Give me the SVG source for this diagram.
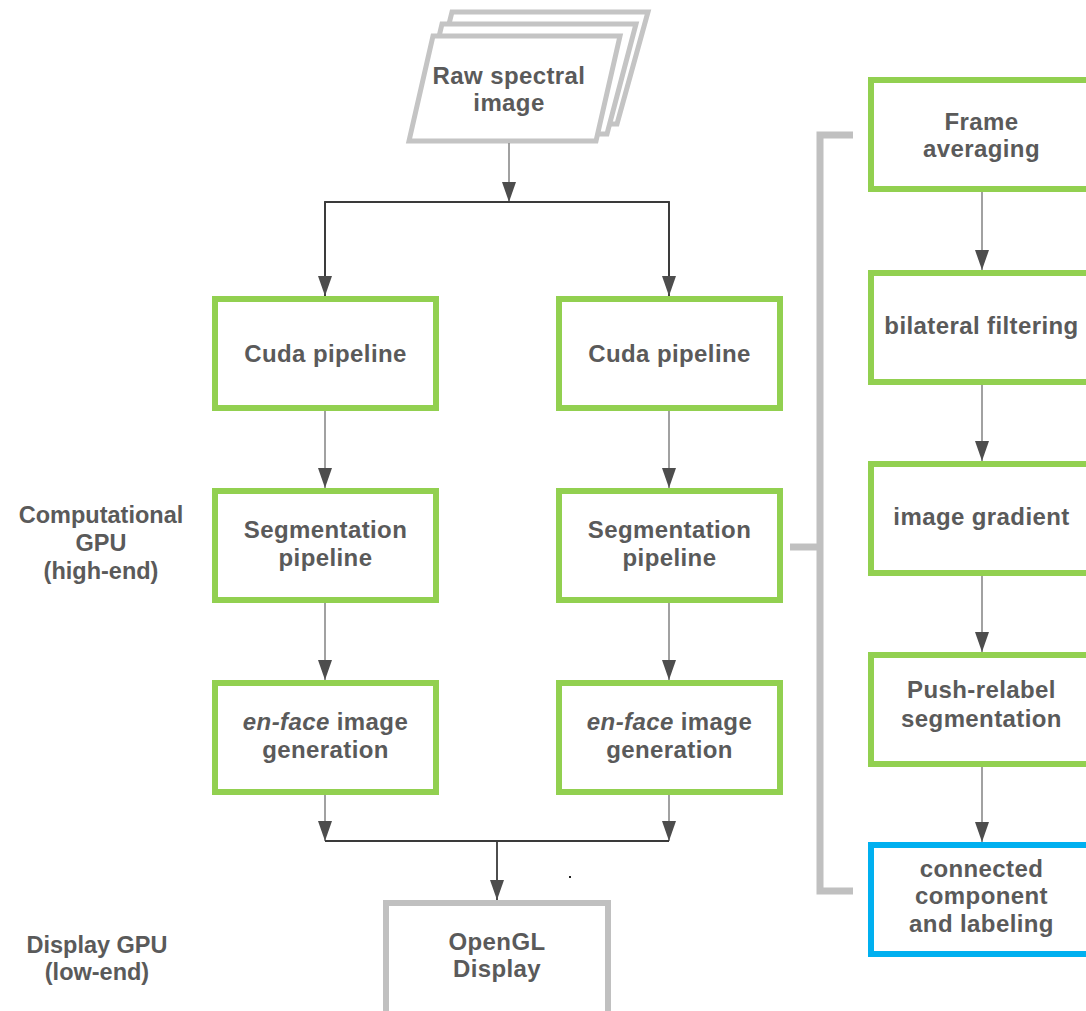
<svg xmlns="http://www.w3.org/2000/svg" width="1086" height="1011" viewBox="0 0 1086 1011">
  <defs>
    <marker id="arrow" markerUnits="userSpaceOnUse" markerWidth="20" markerHeight="14" viewBox="0 0 20 14" refX="20" refY="7" orient="auto">
      <path d="M0,0 L20,7 L0,14 z" fill="#4d4d4d"/>
    </marker>
    <style>
      .box { fill: #ffffff; stroke-width: 6; }
      .green { stroke: #92d050; }
      .blue { stroke: #00b0f0; }
      .grey { stroke: #c0c0c0; }
      .sheet { fill: #ffffff; stroke: #c4c4c4; stroke-width: 5; stroke-linejoin: miter; }
      text { font-family: "Liberation Sans", Arial, sans-serif; font-weight: bold; font-size: 24px; letter-spacing: 0.4px; fill: #5a5a5a; text-anchor: middle; }
      .side { letter-spacing: 0; font-size: 23.5px; }
      .link { fill: none; stroke: #8a8a8a; stroke-width: 1.6; }
      .bus { fill: none; stroke: #3a3a3a; stroke-width: 1.8; }
      .bracket { fill: none; stroke: #c0c0c0; stroke-width: 7; }
    </style>
  </defs>

  <rect width="1086" height="1011" fill="#ffffff"/>

  <!-- side labels -->
  <g id="label-computational" class="side">
    <text class="side" x="101" y="523">Computational</text>
    <text class="side" x="101" y="551">GPU</text>
    <text class="side" x="101" y="579">(high-end)</text>
  </g>
  <g id="label-display">
    <text class="side" x="97" y="953">Display GPU</text>
    <text class="side" x="97" y="980">(low-end)</text>
  </g>

  <!-- stacked input frames -->
  <g id="raw-image">
    <polygon class="sheet" points="452,12 648,12 617,124 424,124"/>
    <polygon class="sheet" points="442,24 636,24 607,134 416,134"/>
    <polygon class="sheet" points="433,36 620,36 596,141 409,141"/>
    <text x="509" y="84">Raw spectral</text>
    <text x="509" y="111">image</text>
  </g>

  <!-- left pipeline -->
  <g id="cuda-left">
    <rect class="box green" x="215" y="299" width="221" height="109"/>
    <text x="325.5" y="362">Cuda pipeline</text>
  </g>
  <g id="seg-left">
    <rect class="box green" x="215" y="491" width="221" height="109"/>
    <text x="325.5" y="538">Segmentation</text>
    <text x="325.5" y="566">pipeline</text>
  </g>
  <g id="enface-left">
    <rect class="box green" x="215" y="683" width="221" height="109"/>
    <text x="325.5" y="730"><tspan font-style="italic">en-face</tspan> image</text>
    <text x="325.5" y="758">generation</text>
  </g>

  <!-- right pipeline -->
  <g id="cuda-right">
    <rect class="box green" x="559" y="299" width="221" height="109"/>
    <text x="669.5" y="362">Cuda pipeline</text>
  </g>
  <g id="seg-right">
    <rect class="box green" x="559" y="491" width="221" height="109"/>
    <text x="669.5" y="538">Segmentation</text>
    <text x="669.5" y="566">pipeline</text>
  </g>
  <g id="enface-right">
    <rect class="box green" x="559" y="683" width="221" height="109"/>
    <text x="669.5" y="730"><tspan font-style="italic">en-face</tspan> image</text>
    <text x="669.5" y="758">generation</text>
  </g>

  <!-- display -->
  <g id="opengl-display">
    <rect class="box grey" x="386" y="903" width="222" height="120"/>
    <text x="497" y="950">OpenGL</text>
    <text x="497" y="977">Display</text>
  </g>

  <!-- segmentation detail -->
  <g id="frame-averaging">
    <rect class="box green" x="871" y="80" width="221" height="109"/>
    <text x="981.5" y="130">Frame</text>
    <text x="981.5" y="157">averaging</text>
  </g>
  <g id="bilateral-filtering">
    <rect class="box green" x="871" y="273" width="221" height="109"/>
    <text x="981.5" y="334">bilateral filtering</text>
  </g>
  <g id="image-gradient">
    <rect class="box green" x="871" y="464" width="221" height="109"/>
    <text x="981.5" y="525">image gradient</text>
  </g>
  <g id="push-relabel">
    <rect class="box green" x="871" y="655" width="221" height="109"/>
    <text x="981.5" y="698">Push-relabel</text>
    <text x="981.5" y="727">segmentation</text>
  </g>
  <g id="connected-component">
    <rect class="box blue" x="871" y="845" width="221" height="109"/>
    <text x="981.5" y="877">connected</text>
    <text x="981.5" y="904">component</text>
    <text x="981.5" y="932">and labeling</text>
  </g>

  <!-- connectors -->
  <g id="connectors">
    <path class="link" d="M509,143 V202" marker-end="url(#arrow)"/>
    <path class="bus" d="M325,296 V202 H669 V296"/>
    <path class="bus" d="M325,202 V296" marker-end="url(#arrow)"/>
    <path class="bus" d="M669,202 V296" marker-end="url(#arrow)"/>

    <path class="link" d="M325,411 V488" marker-end="url(#arrow)"/>
    <path class="link" d="M325,603 V680" marker-end="url(#arrow)"/>
    <path class="link" d="M669,411 V488" marker-end="url(#arrow)"/>
    <path class="link" d="M669,603 V680" marker-end="url(#arrow)"/>

    <path class="link" d="M325,795 V841" marker-end="url(#arrow)"/>
    <path class="link" d="M669,795 V841" marker-end="url(#arrow)"/>
    <path class="bus" d="M325,841 H669"/>
    <path class="bus" d="M497,841 V900" marker-end="url(#arrow)"/>

    <path class="link" d="M982,192 V270" marker-end="url(#arrow)"/>
    <path class="link" d="M982,385 V461" marker-end="url(#arrow)"/>
    <path class="link" d="M982,576 V652" marker-end="url(#arrow)"/>
    <path class="link" d="M982,767 V842" marker-end="url(#arrow)"/>

    <!-- bracket tying the right-hand segmentation box to its detail steps -->
    <path class="bracket" d="M853,135 H820 V891 H853"/>
    <path class="bracket" d="M790,547 H820"/>
  </g>

  <rect x="569" y="876" width="2" height="2" fill="#222222"/>
</svg>
